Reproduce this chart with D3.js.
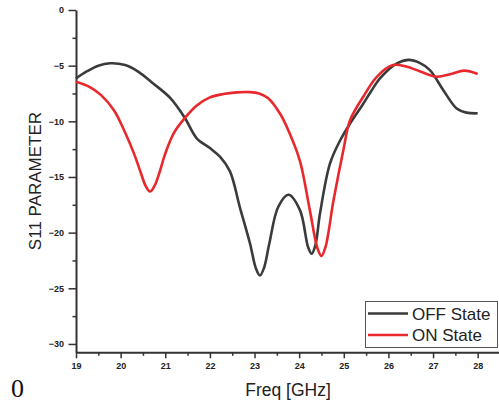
<!DOCTYPE html>
<html>
<head>
<meta charset="utf-8">
<script src="https://cdn.jsdelivr.net/npm/d3@7"></script>
<style>
  body { margin: 0; background: #fff; }
  svg { display: block; }
</style>
</head>
<body>
<script>
// S11 values.
const offFreq = [19, 19.25, 19.5, 19.76, 20.1, 20.4, 20.73, 21.11, 21.44, 21.7, 22.0, 22.23, 22.45, 22.67, 22.9, 23.03, 23.12, 23.21, 23.33, 23.53, 23.76, 24.02, 24.2, 24.28, 24.36, 24.47, 24.69, 24.92, 25.14, 25.44, 25.62, 25.81, 26.19, 26.45, 26.7, 26.93, 27.23, 27.53, 27.75, 28.0];
const offS11 = [-6.15, -5.5, -5.0, -4.79, -4.95, -5.55, -6.6, -7.9, -9.7, -11.5, -12.4, -13.2, -14.5, -17.7, -21.0, -23.2, -23.85, -23.2, -21.0, -17.7, -16.6, -18.0, -21.3, -21.9, -21.2, -18.2, -13.8, -11.7, -10.2, -8.4, -7.25, -6.15, -4.8, -4.48, -4.75, -5.4, -7.2, -8.85, -9.22, -9.28];

const onFreq = [19, 19.3, 19.55, 19.85, 20.1, 20.3, 20.45, 20.56, 20.66, 20.76, 20.87, 21.0, 21.2, 21.45, 21.7, 22.0, 22.3, 22.6, 22.9, 23.1, 23.3, 23.57, 23.8, 24.02, 24.24, 24.41, 24.5, 24.59, 24.77, 24.99, 25.14, 25.45, 25.74, 26.1, 26.4, 26.7, 27.08, 27.4, 27.7, 28.0];
const onS11 = [-6.45, -6.9, -7.6, -9.0, -11.0, -12.9, -14.6, -15.8, -16.3, -15.8, -14.6, -12.9, -11.0, -9.65, -8.6, -7.85, -7.55, -7.4, -7.38, -7.5, -7.9, -9.3, -11.2, -13.6, -18.0, -21.4, -22.1, -21.3, -17.1, -12.6, -9.9, -7.7, -6.0, -4.95, -5.08, -5.5, -6.0, -5.75, -5.45, -5.75];

const seriesNames = ["OFF State", "ON State"];
const seriesColors = ["#3b3b3b", "#e8282c"];

const xMajor = [19, 20, 21, 22, 23, 24, 25, 26, 27, 28];
const xMinor = [19.5, 20.5, 21.5, 22.5, 23.5, 24.5, 25.5, 26.5, 27.5];
const yMajor = [0, -5, -10, -15, -20, -25, -30];
const yMinor = [-2.5, -7.5, -12.5, -17.5, -22.5, -27.5];

const width = 499, height = 402;

const svg = d3.select("body").append("svg")
  .attr("width", width)
  .attr("height", height);

// Scales fitted to the plot frame of the reference.
const x = d3.scaleLinear().domain([19, 28.5]).range([76, 500]);
const y = d3.scaleLinear().domain([0, -30.75]).range([10, 352.3]);

const tickFont = "Arial, 'Liberation Sans', sans-serif";

// Minor ticks first, labels off.
svg.append("g")
  .attr("transform", `translate(0,${y(-30.75)})`)
  .call(d3.axisBottom(x).tickValues(xMinor).tickSize(3.5).tickFormat(""))
  .call(g => g.select(".domain").remove())
  .call(g => g.selectAll("line").attr("stroke", "#333").attr("stroke-width", 1.5));
svg.append("g")
  .attr("transform", `translate(${x(19)},0)`)
  .call(d3.axisLeft(y).tickValues(yMinor).tickSize(3.5).tickFormat(""))
  .call(g => g.select(".domain").remove())
  .call(g => g.selectAll("line").attr("stroke", "#333").attr("stroke-width", 1.5));

// Major axes.
const minus = d => d < 0 ? "\u2212" + Math.abs(d) : String(d);
svg.append("g")
  .attr("transform", `translate(0,${y(-30.75)})`)
  .call(d3.axisBottom(x).tickValues(xMajor).tickSize(6).tickSizeOuter(0).tickFormat(d3.format("d")))
  .call(g => g.select(".domain").attr("stroke", "#333").attr("stroke-width", 2))
  .call(g => g.selectAll("line").attr("stroke", "#333").attr("stroke-width", 1.5))
  .call(g => g.selectAll("text")
    .attr("y", 10)
    .attr("fill", "#222")
    .style("font-family", tickFont)
    .style("font-size", "9px")
    .style("font-weight", "bold"));

svg.append("g")
  .attr("transform", `translate(${x(19)},0)`)
  .call(d3.axisLeft(y).tickValues(yMajor).tickSize(7.5).tickSizeOuter(0).tickFormat(minus))
  .call(g => g.select(".domain").attr("stroke", "#333").attr("stroke-width", 2))
  .call(g => g.selectAll("line").attr("stroke", "#333").attr("stroke-width", 1.5))
  .call(g => g.selectAll("text")
    .attr("x", -12)
    .attr("fill", "#222")
    .style("font-family", tickFont)
    .style("font-size", "9px")
    .style("font-weight", "bold"));

// Curves, smoothed like the original plot.
const line = d3.line()
  .x(d => x(d[0]))
  .y(d => y(d[1]))
  .curve(d3.curveCatmullRom.alpha(0.5));

const series = [
  d3.zip(offFreq, offS11),
  d3.zip(onFreq, onS11)
];

svg.selectAll(".curve")
  .data(series)
  .enter().append("path")
  .attr("class", "curve")
  .attr("d", line)
  .attr("fill", "none")
  .attr("stroke", (d, i) => seriesColors[i])
  .attr("stroke-width", 2.6)
  .attr("stroke-linejoin", "round");

// Axis titles.
svg.append("text")
  .attr("transform", `translate(41,181) rotate(-90)`)
  .attr("text-anchor", "middle")
  .style("font-family", tickFont)
  .style("font-size", "17px")
  .attr("fill", "#222")
  .text("S11 PARAMETER");

svg.append("text")
  .attr("x", 288)
  .attr("y", 396)
  .attr("text-anchor", "middle")
  .style("font-family", tickFont)
  .style("font-size", "17.5px")
  .attr("fill", "#222")
  .text("Freq [GHz]");

// Stray "0" in the bottom-left corner.
svg.append("text")
  .attr("x", 11)
  .attr("y", 397)
  .style("font-family", "'Liberation Serif', 'Times New Roman', serif")
  .style("font-size", "26px")
  .attr("fill", "#111")
  .text("0");

// Legend.
const legend = svg.append("g");
legend.append("rect")
  .attr("x", 365.5)
  .attr("y", 301.5)
  .attr("width", 132)
  .attr("height", 46)
  .attr("fill", "#fff")
  .attr("stroke", "#555")
  .attr("stroke-width", 1);

const rows = legend.selectAll(".row")
  .data(seriesNames)
  .enter().append("g")
  .attr("class", "row")
  .attr("transform", (d, i) => `translate(0,${313.5 + i * 21.5})`);
rows.append("line")
  .attr("x1", 368)
  .attr("x2", 408)
  .attr("stroke", (d, i) => seriesColors[i])
  .attr("stroke-width", 2.6);
rows.append("text")
  .attr("x", 412)
  .attr("y", 6)
  .style("font-family", tickFont)
  .style("font-size", "17px")
  .attr("fill", "#222")
  .text(d => d);
</script>
</body>
</html>
